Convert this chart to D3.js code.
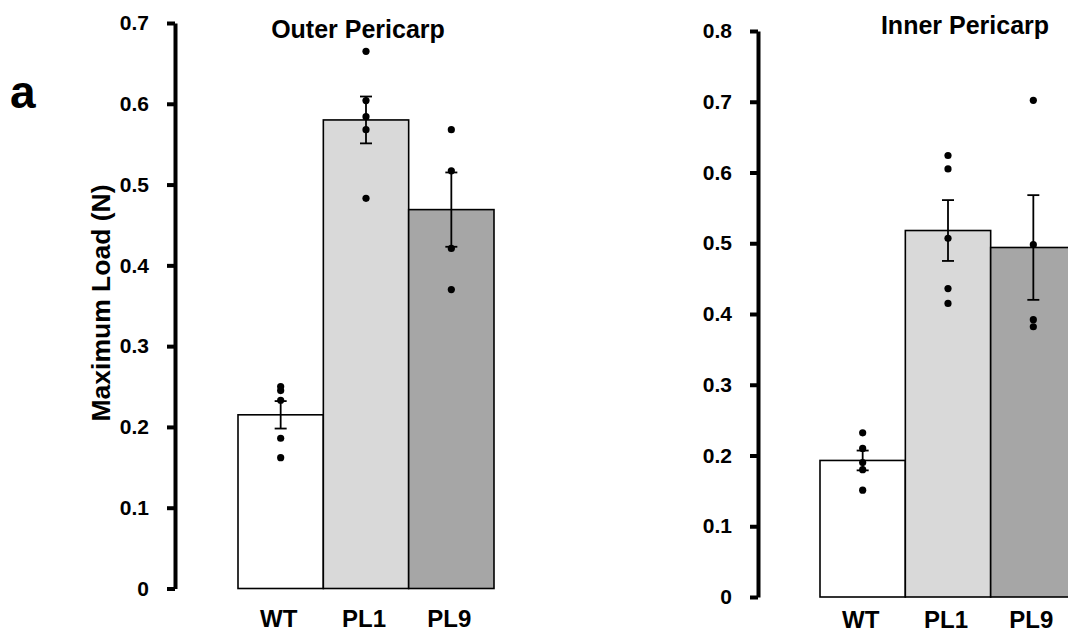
<!DOCTYPE html>
<html>
<head>
<meta charset="utf-8">
<script src="https://cdn.jsdelivr.net/npm/d3@7"></script>
<style>
  body { margin: 0; background: #fff; }
  svg text { font-family: "Liberation Sans", Arial, sans-serif; font-weight: bold; fill: #000; }
</style>
</head>
<body>
<svg id="chart" width="1068" height="633"></svg>
<script>
const categories = ["WT", "PL1", "PL9"];
const barColors = ["#ffffff", "#d9d9d9", "#a6a6a6"];

// Outer pericarp
const outerMeans = [0.215, 0.580, 0.469];
const outerErr = [0.017, 0.029, 0.046];
const outerPoints = [
    [0.250, 0.245, 0.233, 0.186, 0.162],
    [0.665, 0.604, 0.584, 0.568, 0.483],
    [0.568, 0.517, 0.421, 0.370]
];
const outerTicks = [0, 0.1, 0.2, 0.3, 0.4, 0.5, 0.6, 0.7];

// Inner pericarp
const innerMeans = [0.193, 0.518, 0.494];
const innerErr = [0.014, 0.043, 0.074];
const innerPoints = [
    [0.232, 0.210, 0.190, 0.180, 0.151],
    [0.624, 0.605, 0.507, 0.436, 0.415],
    [0.702, 0.498, 0.392, 0.382]
];
const innerTicks = [0, 0.1, 0.2, 0.3, 0.4, 0.5, 0.6, 0.7, 0.8];

const svg = d3.select("#chart");

function drawPanel(opts) {
    const g = svg.append("g");

    const x = d3.scaleBand()
        .domain(categories)
        .range(opts.xRange)
        .padding(0);

    const y = d3.scaleLinear()
        .domain([0, opts.yMax])
        .range(opts.yRange);

    // y axis
    const axis = g.append("g")
        .attr("transform", `translate(${opts.axisX},0)`)
        .call(d3.axisLeft(y)
            .tickValues(opts.ticks)
            .tickSize(8)
            .tickSizeOuter(0)
            .tickPadding(18)
            .tickFormat(d => d === 0 ? "0" : d.toFixed(1)));
    axis.select(".domain").attr("stroke-width", 4).attr("stroke", "#000");
    axis.selectAll(".tick line").attr("stroke-width", 4).attr("stroke", "#000");
    axis.selectAll(".tick text")
        .style("font-size", "21px")
        .style("font-weight", "bold");

    // bars
    g.selectAll(".bar")
        .data(opts.means)
        .enter()
        .append("rect")
        .attr("class", "bar")
        .attr("x", (d, i) => x(categories[i]))
        .attr("y", d => y(d))
        .attr("width", x.bandwidth())
        .attr("height", d => y(0) - y(d))
        .attr("fill", (d, i) => barColors[i])
        .attr("stroke", "#000")
        .attr("stroke-width", 1.6);

    // error bars
    const cx = i => x(categories[i]) + x.bandwidth() / 2;
    const cap = 6;
    opts.means.forEach((m, i) => {
        const e = opts.err[i];
        g.append("line")
            .attr("x1", cx(i)).attr("x2", cx(i))
            .attr("y1", y(m + e)).attr("y2", y(m - e))
            .attr("stroke", "#000").attr("stroke-width", 1.8);
        [m + e, m - e].forEach(v => {
            g.append("line")
                .attr("x1", cx(i) - cap).attr("x2", cx(i) + cap)
                .attr("y1", y(v)).attr("y2", y(v))
                .attr("stroke", "#000").attr("stroke-width", 1.8);
        });
    });

    // individual points
    opts.points.forEach((pts, i) => {
        g.selectAll(null)
            .data(pts)
            .enter()
            .append("circle")
            .attr("cx", cx(i))
            .attr("cy", d => y(d))
            .attr("r", 3.6)
            .attr("fill", "#000");
    });

    // category labels
    g.selectAll(".cat")
        .data(categories)
        .enter()
        .append("text")
        .attr("class", "cat")
        .attr("x", d => x(d) + x.bandwidth() / 2 - 2)
        .attr("y", opts.labelY)
        .attr("text-anchor", "middle")
        .style("font-size", "24px")
        .text(d => d);

    // panel title
    g.append("text")
        .attr("x", opts.titleX)
        .attr("y", opts.titleY)
        .attr("text-anchor", "middle")
        .style("font-size", "25px")
        .text(opts.title);
}

drawPanel({
    title: "Outer Pericarp",
    titleX: 358, titleY: 38,
    xRange: [238, 494],
    yRange: [588.5, 23],
    yMax: 0.7,
    axisX: 175,
    ticks: outerTicks,
    means: outerMeans, err: outerErr, points: outerPoints,
    labelY: 627
});

drawPanel({
    title: "Inner Pericarp",
    titleX: 965, titleY: 34,
    xRange: [820, 1076],
    yRange: [597, 31],
    yMax: 0.8,
    axisX: 758,
    ticks: innerTicks,
    means: innerMeans, err: innerErr, points: innerPoints,
    labelY: 628
});

// y axis title
svg.append("text")
    .attr("transform", "translate(110,303) rotate(-90)")
    .attr("text-anchor", "middle")
    .style("font-size", "26.5px")
    .text("Maximum Load (N)");

// panel letter
svg.append("text")
    .attr("x", 10)
    .attr("y", 108)
    .style("font-size", "46px")
    .text("a");
</script>
</body>
</html>
